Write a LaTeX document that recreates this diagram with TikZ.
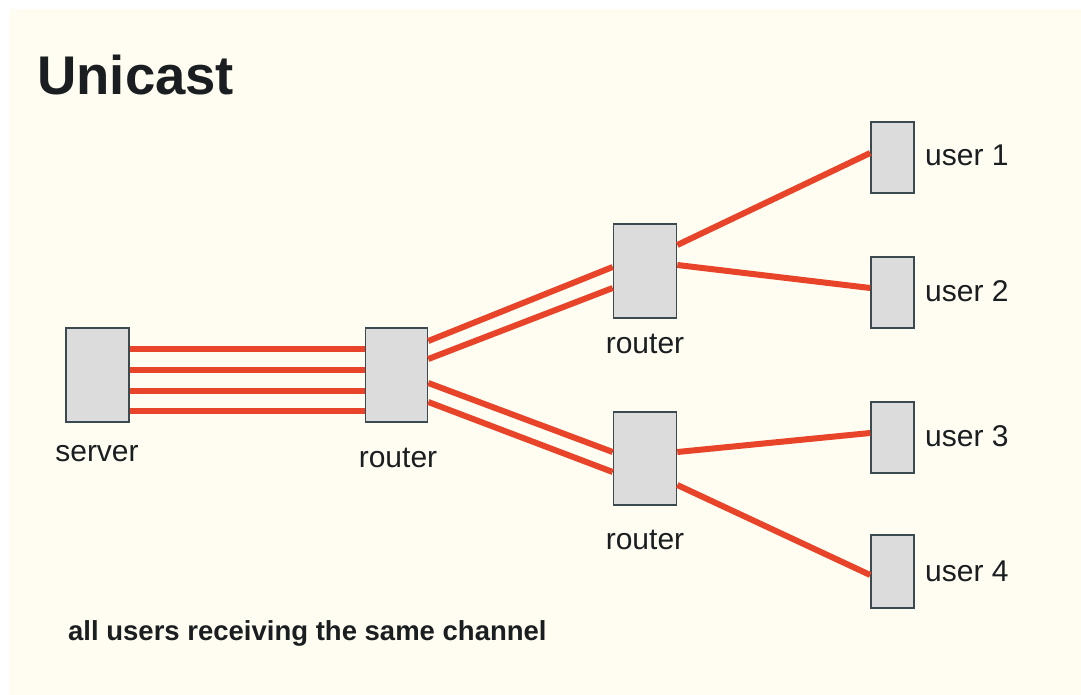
\documentclass[tikz,border=0pt]{standalone}
\usepackage{fontspec}
\setmainfont{Liberation Sans}
\definecolor{paper}{HTML}{FFFDF1}
\definecolor{boxfill}{HTML}{DCDCDC}
\definecolor{boxline}{HTML}{3A4A4E}
\definecolor{link}{HTML}{E8442A}
\definecolor{ink}{HTML}{1A1E20}
\begin{document}
\begin{tikzpicture}[x=1pt,y=-1pt,
  device/.style={draw=boxline,fill=boxfill,line width=1.6pt,inner sep=0pt},
  wire/.style={draw=link,line width=6pt},
  lbl/.style={text=ink,font=\fontsize{30}{33}\selectfont,inner sep=0pt}]
  % page and background
  \useasboundingbox (0,0) rectangle (1081,695);
  \fill[white] (0,0) rectangle (1081,695);
  \fill[paper] (9,9) rectangle (1081,695);

  % title and caption
  \node[anchor=base west,inner sep=0pt,text=ink,font=\fontsize{54.5}{60}\selectfont\bfseries] (title) at (37,95) {Unicast};
  \node[anchor=base west,inner sep=0pt,text=ink,font=\fontsize{27.5}{30}\selectfont\bfseries] (caption) at (68,640) {all users receiving the same channel};

  % devices
  \node[device,minimum width=63pt,minimum height=94pt] (server) at (97.5,375) {};
  \node[device,minimum width=62pt,minimum height=94pt] (r1) at (396.5,375) {};
  \node[device,minimum width=63pt,minimum height=94pt] (r2) at (645,271) {};
  \node[device,minimum width=63pt,minimum height=93pt] (r3) at (645,458.5) {};
  \node[device,minimum width=43pt,minimum height=71pt] (u1) at (892.5,157.5) {};
  \node[device,minimum width=43pt,minimum height=71pt] (u2) at (892.5,292.5) {};
  \node[device,minimum width=43pt,minimum height=71pt] (u3) at (892.5,437.5) {};
  \node[device,minimum width=43pt,minimum height=73pt] (u4) at (892.5,571.5) {};

  % labels
  \node[lbl,anchor=base] (lserver) at (97,461) {server};
  \node[lbl,anchor=base] (lr1) at (398,467) {router};
  \node[lbl,anchor=base] (lr2) at (645,353) {router};
  \node[lbl,anchor=base] (lr3) at (645,549) {router};
  \node[lbl,anchor=base west] (lu1) at (925,166) {user 1};
  \node[lbl,anchor=base west] (lu2) at (925,301) {user 2};
  \node[lbl,anchor=base west] (lu3) at (925,446) {user 3};
  \node[lbl,anchor=base west] (lu4) at (925,581) {user 4};

  % one stream per user from the server
  \foreach \yy in {349,370,391,411}
    \draw[wire] (server.east |- 0,\yy) -- (r1.west |- 0,\yy);
  \draw[wire] (r1.east |- 0,341) -- (r2.west |- 0,267);
  \draw[wire] (r1.east |- 0,359) -- (r2.west |- 0,288);
  \draw[wire] (r1.east |- 0,383) -- (r3.west |- 0,452);
  \draw[wire] (r1.east |- 0,402) -- (r3.west |- 0,472);
  \draw[wire] (r2.east |- 0,245) -- (u1.west |- 0,153);
  \draw[wire] (r2.east |- 0,265) -- (u2.west |- 0,288);
  \draw[wire] (r3.east |- 0,452) -- (u3.west |- 0,433);
  \draw[wire] (r3.east |- 0,485) -- (u4.west |- 0,575);
\end{tikzpicture}
\end{document}
